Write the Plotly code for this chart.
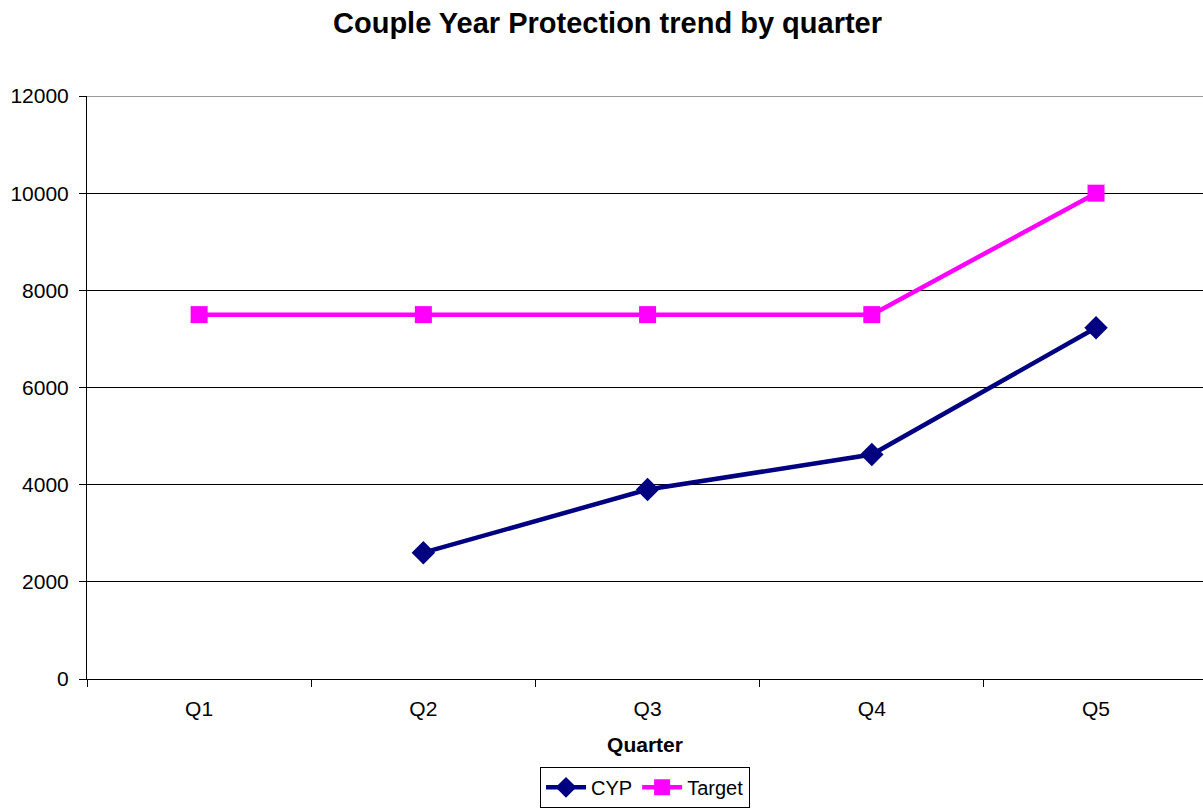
import plotly.graph_objects as go

quarters = ["Q1", "Q2", "Q3", "Q4", "Q5"]
cyp = [None, 2600, 3900, 4620, 7230]
target = [7500, 7500, 7500, 7500, 10000]
y_ticks = [0, 2000, 4000, 6000, 8000, 10000, 12000]

fig = go.Figure()
fig.add_trace(go.Scatter(
    x=quarters, y=cyp, name="CYP", mode="lines+markers",
    line=dict(color="#000080", width=4.5),
    marker=dict(symbol="diamond", size=18, color="#000080"),
))
fig.add_trace(go.Scatter(
    x=quarters, y=target, name="Target", mode="lines+markers",
    line=dict(color="#FF00FF", width=4.5),
    marker=dict(symbol="square", size=17, color="#FF00FF"),
))

fig.add_shape(type="line", xref="paper", yref="y", x0=0, x1=1, y0=12000, y1=12000,
              line=dict(color="#999999", width=2), layer="above")

fig.update_layout(
    width=1203, height=810,
    margin=dict(l=87, r=0, t=96, b=131, autoexpand=False),
    paper_bgcolor="white", plot_bgcolor="white",
    font=dict(family="Liberation Sans, Arial, sans-serif", size=21, color="black"),
    title=dict(text="<b>Couple Year Protection trend by quarter</b>",
               x=0.505, xanchor="center", y=0.972, yanchor="middle",
               font=dict(size=29, color="black")),
    showlegend=True,
    legend=dict(orientation="h", x=0.5, xanchor="center", y=-0.221, yanchor="bottom",
                bordercolor="black", borderwidth=1, font=dict(size=20),
                itemwidth=40, tracegroupgap=0, itemsizing="trace"),
    xaxis=dict(
        type="category", range=[-0.5, 4.477],
        showline=True, linecolor="black", linewidth=1,
        ticks="outside", tickson="boundaries", ticklen=7, tickcolor="black",
        showgrid=False, tickfont=dict(size=21), ticklabelstandoff=11,
        title=dict(text="<b>Quarter</b>", font=dict(size=21), standoff=18),
    ),
    yaxis=dict(
        range=[0, 12000], tickvals=y_ticks, tickformat="d",
        showline=True, linecolor="black", linewidth=1,
        ticks="outside", ticklen=7, tickcolor="black",
        showgrid=True, gridcolor="black", gridwidth=1,
        zeroline=True, zerolinecolor="black", zerolinewidth=1,
        tickfont=dict(size=21), ticklabelstandoff=6,
    ),
)

fig.write_html("out.html")
